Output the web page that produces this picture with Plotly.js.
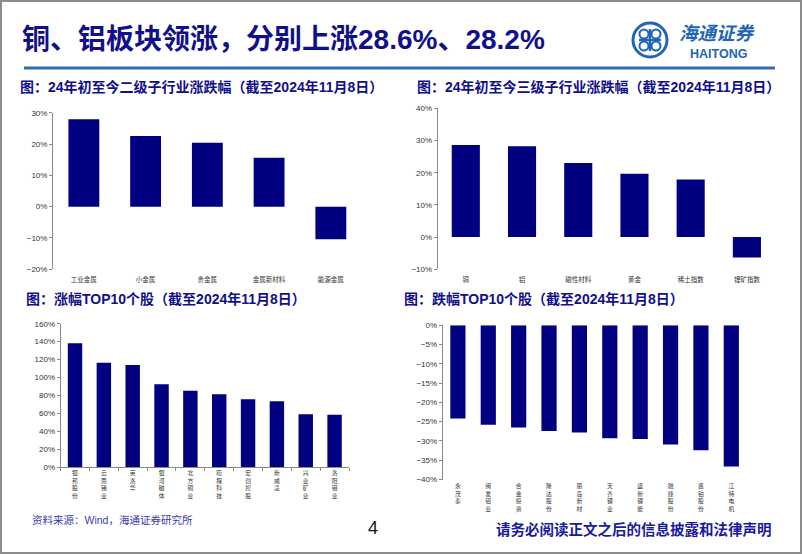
<!DOCTYPE html>
<html>
<head>
<meta charset="utf-8">
<script src="https://cdn.plot.ly/plotly-3.0.1.min.js"></script>
<style>
  html, body { margin: 0; padding: 0; background: #fff; }
  #chart { width: 802px; height: 554px; }
</style>
</head>
<body>
<div id="chart"></div>
<script>
// chart data
const subLevel2Cats = ['工业金属', '小金属', '贵金属', '金属新材料', '能源金属'];
const subLevel2Vals = [27.9, 22.6, 20.4, 15.6, -10.4];

const subLevel3Cats = ['铜', '铝', '磁性材料', '黄金', '稀土指数', '锂矿指数'];
const subLevel3Vals = [28.6, 28.2, 23.0, 19.7, 17.9, -6.3];

const gainNames = ['银邦股份', '云南锗业', '英洛华', '银河磁体', '北方铜业', '晓程科技', '宏创控股', '新威凌', '兴业矿业', '洛阳钼业'];
const gainVals = [138.1, 116.5, 113.9, 92.3, 85.2, 81.1, 75.6, 73.3, 58.8, 58.4];

const lossNames = ['永茂泰', '闽发铝业', '合金投资', '隆达股份', '丽岛新材', '天齐锂业', '盛新锂能', '融捷股份', '鑫铂股份', '江特电机'];
const lossVals = [-24.2, -25.8, -26.5, -27.4, -27.8, -29.3, -29.5, -30.9, -32.4, -36.6];

const W = 802, H = 554;
const px = x => x / W;
const py = y => 1 - y / H;

const NAVY = '#000080';
const TITLE_BLUE = '#10108a';
const AXIS_GREY = '#8a8a8a';
const CJK = '"Noto Sans CJK SC", sans-serif';
const LATIN = '"Liberation Sans", Arial, "Noto Sans CJK SC", sans-serif';

// stock names are written top to bottom, one character per line
const vertical = names => names.map(n => n.split('').join('<br>'));

function bar(x, y, xa, ya) {
  return {
    type: 'bar', x: x, y: y, xaxis: xa, yaxis: ya,
    marker: { color: NAVY }, width: 0.5, hoverinfo: 'skip'
  };
}

const traces = [
  bar(subLevel2Cats, subLevel2Vals, 'x', 'y'),
  bar(subLevel3Cats, subLevel3Vals, 'x2', 'y2'),
  bar(gainNames, gainVals, 'x3', 'y3'),
  bar(lossNames, lossVals, 'x4', 'y4')
];

function yAxis(dom, range, dtick) {
  return {
    domain: dom, range: range, dtick: dtick, ticksuffix: '%',
    showgrid: false, zeroline: false, showline: true, linecolor: AXIS_GREY, linewidth: 1,
    ticks: 'outside', ticklen: 3, tickcolor: AXIS_GREY,
    tickfont: { family: LATIN, size: 8, color: '#333' }, fixedrange: true
  };
}

// category axis at the bottom, labels only
function catAxis(dom, extra) {
  return Object.assign({
    domain: dom, type: 'category', showgrid: false, zeroline: false,
    showline: false, ticks: '', tickangle: 0,
    tickfont: { family: CJK, size: 6.5, color: '#333' }, fixedrange: true
  }, extra);
}

// thin axis line at the zero level with ticks between categories
function zeroAxis(over, n, pos, side) {
  return {
    overlaying: over, anchor: 'free', position: pos, side: side,
    type: 'linear', range: [-0.5, n - 0.5], tickmode: 'linear', tick0: 0.5, dtick: 1,
    showticklabels: false, showgrid: false, zeroline: false,
    showline: true, linecolor: AXIS_GREY, linewidth: 1,
    ticks: 'outside', ticklen: 3, tickcolor: AXIS_GREY, fixedrange: true
  };
}

const d1x = [px(53), px(361.7)], d1y = [py(269.3), py(112.7)];
const d2x = [px(437.7), px(775)], d2y = [py(269.3), py(108.3)];
const d3x = [px(60.6), px(349)], d3y = [py(467), py(323.7)];
const d4x = [px(442.7), px(746.5)], d4y = [py(479.5), py(325.3)];

const r1 = [-20, 30], r2 = [-10, 40];
const zeroPos = (dom, r) => dom[0] + (0 - r[0]) / (r[1] - r[0]) * (dom[1] - dom[0]);

const annotations = [
  { text: '<b>铜、铝板块领涨，分别上涨28.6%、28.2%</b>', x: px(21), y: py(39),
    font: { family: LATIN, size: 28, color: TITLE_BLUE } },
  { text: '<b>图：24年初至今二级子行业涨跌幅（截至2024年11月8日）</b>', x: px(19), y: py(87),
    font: { family: LATIN, size: 14, color: TITLE_BLUE } },
  { text: '<b>图：24年初至今三级子行业涨跌幅（截至2024年11月8日）</b>', x: px(416), y: py(87),
    font: { family: LATIN, size: 14, color: TITLE_BLUE } },
  { text: '<b>图：涨幅TOP10个股（截至2024年11月8日）</b>', x: px(25), y: py(299),
    font: { family: LATIN, size: 14, color: TITLE_BLUE } },
  { text: '<b>图：跌幅TOP10个股（截至2024年11月8日）</b>', x: px(403), y: py(299),
    font: { family: LATIN, size: 14, color: TITLE_BLUE } },
  { text: '资料来源：Wind，海通证券研究所', x: px(31), y: py(520),
    font: { family: LATIN, size: 10.5, color: '#3a3aaa' } },
  { text: '4', x: px(367), y: py(528),
    font: { family: LATIN, size: 18, color: '#111' } },
  { text: '<b>请务必阅读正文之后的信息披露和法律声明</b>', x: px(495), y: py(528),
    font: { family: CJK, size: 14.5, color: '#1a1aa0' } },
  { text: '<i><b>海通证券</b></i>', x: px(678), y: py(32),
    font: { family: CJK, size: 18.5, color: '#2166b3' } },
  { text: '<b>HAITONG</b>', x: px(689), y: py(54),
    font: { family: LATIN, size: 12.5, color: '#2166b3' } }
].map(a => Object.assign({ xref: 'paper', yref: 'paper', xanchor: 'left', yanchor: 'middle', showarrow: false, borderpad: 0 }, a));

// logo emblem
const cx = 650, cy = 40, rr = 17;
const LOGO = '#2166b3';
const shapes = [
  { type: 'rect', xref: 'paper', yref: 'paper', x0: px(1), x1: px(801), y0: py(1), y1: py(553),
    line: { color: '#8c8c8c', width: 2 } },
  { type: 'line', xref: 'paper', yref: 'paper', x0: px(24), x1: px(775), y0: py(68), y1: py(68),
    line: { color: '#2e6fb3', width: 3 } },
  { type: 'circle', xref: 'paper', yref: 'paper', x0: px(cx - rr), x1: px(cx + rr), y0: py(cy + rr), y1: py(cy - rr),
    line: { color: LOGO, width: 3 } },
  { type: 'line', xref: 'paper', yref: 'paper', x0: px(cx - 11), x1: px(cx + 11), y0: py(cy), y1: py(cy),
    line: { color: LOGO, width: 2.5 } },
  { type: 'line', xref: 'paper', yref: 'paper', x0: px(cx), x1: px(cx), y0: py(cy - 11), y1: py(cy + 11),
    line: { color: LOGO, width: 2.5 } }
];
[[-6, -6], [6, -6], [-6, 6], [6, 6]].forEach(([dx, dy]) => {
  shapes.push({ type: 'circle', xref: 'paper', yref: 'paper',
    x0: px(cx + dx - 4.5), x1: px(cx + dx + 4.5), y0: py(cy + dy + 4.5), y1: py(cy + dy - 4.5),
    line: { color: LOGO, width: 2 } });
});

const layout = {
  width: W, height: H,
  margin: { l: 0, r: 0, t: 0, b: 0, pad: 0 },
  paper_bgcolor: '#fff', plot_bgcolor: 'rgba(0,0,0,0)',
  showlegend: false, bargap: 0.5,

  xaxis: catAxis(d1x, { anchor: 'y', ticklabelstandoff: 5 }),
  yaxis: Object.assign(yAxis(d1y, r1, 10), { anchor: 'x' }),
  xaxis2: catAxis(d2x, { anchor: 'y2', ticklabelstandoff: 5 }),
  yaxis2: Object.assign(yAxis(d2y, r2, 10), { anchor: 'x2' }),
  xaxis3: catAxis(d3x, {
    anchor: 'y3', tickmode: 'array', tickvals: gainNames, ticktext: vertical(gainNames),
    showline: true, linecolor: AXIS_GREY, ticks: 'outside', ticklen: 3, tickcolor: AXIS_GREY,
    tickson: 'boundaries', tickfont: { family: CJK, size: 5.8, color: '#333' }
  }),
  yaxis3: Object.assign(yAxis(d3y, [0, 160], 20), { anchor: 'x3' }),
  xaxis4: catAxis(d4x, {
    anchor: 'y4', tickmode: 'array', tickvals: lossNames, ticktext: vertical(lossNames),
    ticklabelstandoff: 2, tickfont: { family: CJK, size: 5.8, color: '#333' }
  }),
  yaxis4: Object.assign(yAxis(d4y, [-40, 0], 5), { anchor: 'x4' }),

  xaxis5: zeroAxis('x', subLevel2Cats.length, zeroPos(d1y, r1), 'bottom'),
  xaxis6: zeroAxis('x2', subLevel3Cats.length, zeroPos(d2y, r2), 'bottom'),
  xaxis8: zeroAxis('x4', lossNames.length, d4y[1], 'top'),

  annotations: annotations,
  shapes: shapes
};

Plotly.newPlot('chart', traces, layout, { staticPlot: true, displayModeBar: false });
</script>
</body>
</html>
